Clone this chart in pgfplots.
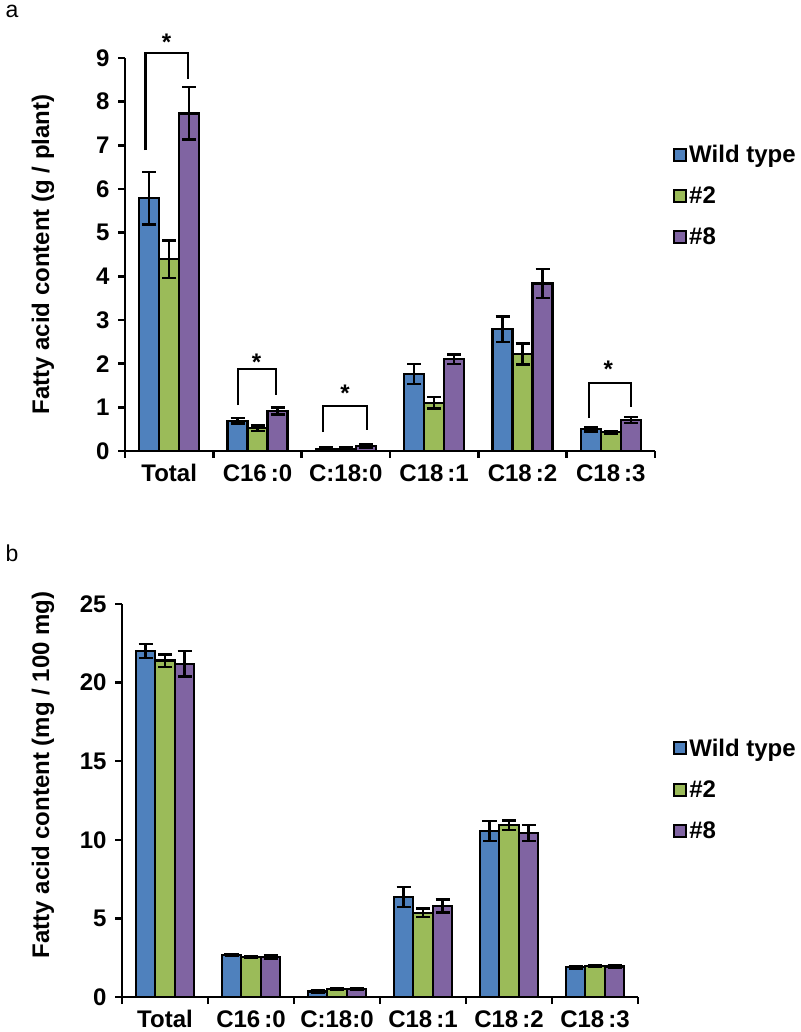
\documentclass[border=0pt]{standalone}
\usepackage{fontspec}
\setmainfont{Liberation Sans}
\usepackage{pgfplots}
\usepackage{pgfplotstable}
\pgfplotsset{compat=1.18}

\definecolor{wt}{HTML}{4F81BD}
\definecolor{tg}{HTML}{9BBB59}
\definecolor{tp}{HTML}{8064A2}

\pgfplotstableread{
x wt wte t2 t2e t8 t8e
0 5.79 0.60 4.39 0.43 7.73 0.60
1 0.69 0.06 0.52 0.06 0.92 0.08
2 0.05 0.03 0.05 0.03 0.12 0.04
3 1.76 0.23 1.10 0.13 2.10 0.11
4 2.79 0.29 2.22 0.24 3.84 0.33
5 0.50 0.05 0.43 0.03 0.71 0.07
}\dataA

\pgfplotstableread{
x wt wte t2 t2e t8 t8e
0 22.00 0.45 21.40 0.40 21.20 0.80
1 2.67 0.08 2.55 0.07 2.55 0.12
2 0.35 0.08 0.50 0.05 0.50 0.05
3 6.36 0.64 5.36 0.28 5.79 0.42
4 10.56 0.62 10.94 0.30 10.43 0.50
5 1.90 0.08 1.98 0.07 1.93 0.10
}\dataB

\newcommand{\bigf}{\fontsize{24}{28}\selectfont\bfseries}

\pgfplotsset{
  leg/.style={legend image code/.code={\draw[##1, line width=2pt] (0pt,-6pt) rectangle (12pt,6pt);}},
  fa/.style={
    scale only axis, height=393pt,
    ybar=0pt,
    axis x line*=bottom, axis y line*=left,
    axis line style={line width=2.4pt, -},
    xmin=-0.5, xmax=5.5, ymin=0,
    xtick={0,...,5},
    xticklabels={Total, C16\,:0, C:18:0, C18\,:1, C18\,:2, C18\,:3},
    minor xtick={-0.5,0.5,...,5.5},
    major x tick style={draw=none},
    minor x tick style={line width=2.4pt, black},
    ytick style={line width=2.4pt, black},
    tick align=outside,
    major tick length=7pt, minor tick length=7pt,
    /pgf/number format/assume math mode=true,
    tick label style={font=\bigf},
    yticklabel style={xshift=-5pt},
    xticklabel style={yshift=-3pt},
    ylabel style={font=\bigf},
    clip=false,
    legend cell align=left,
    error bars/y dir=both, error bars/y explicit,
    error bars/error bar style={line width=2.4pt, black},
    error bars/error mark options={rotate=90, mark size=7pt, line width=2.4pt, black},
  },
}

\begin{document}
\begin{tikzpicture}
\useasboundingbox (0pt,0pt) rectangle (800pt,1032pt);
\node[anchor=base west, font=\fontsize{23}{26}\selectfont] at (2pt,1014pt) {a};
\node[anchor=base west, font=\fontsize{23}{26}\selectfont] at (2pt,470pt) {b};

% Panel a
\begin{axis}[fa, at={(125pt,581pt)}, anchor=south west, width=530pt,
  bar width=20pt, ymax=9, ytick={0,1,...,9},
  ylabel={Fatty acid content (g / plant)},
  ylabel style={at={(axis description cs:-0.155,0.5)}, anchor=center},
  legend style={draw=none, fill=none, at={(1.034,0.784)}, anchor=north west,
    font=\bigf, row sep=19pt, inner sep=0pt},
]
\addplot[fill=wt, draw=black, line width=2.4pt, leg] table[x=x, y=wt, y error=wte]{\dataA};
\addplot[fill=tg, draw=black, line width=2.4pt, leg] table[x=x, y=t2, y error=t2e]{\dataA};
\addplot[fill=tp, draw=black, line width=2.4pt, leg] table[x=x, y=t8, y error=t8e]{\dataA};
\legend{Wild type, \#2, \#8}
\draw[line width=2.4pt] (axis cs:-0.27,6.89) -- (axis cs:-0.27,9.11) -- (axis cs:0.215,9.11) -- (axis cs:0.215,8.53);
\draw[line width=2.4pt] (axis cs:0.78,1.05) -- (axis cs:0.78,1.88) -- (axis cs:1.21,1.88) -- (axis cs:1.21,1.28);
\draw[line width=2.4pt] (axis cs:1.74,0.43) -- (axis cs:1.74,1.03) -- (axis cs:2.24,1.03) -- (axis cs:2.24,0.48);
\draw[line width=2.4pt] (axis cs:4.755,0.75) -- (axis cs:4.755,1.56) -- (axis cs:5.23,1.56) -- (axis cs:5.23,1.0);
\node[anchor=base, font=\bigf] at (axis cs:-0.03,9.18) {*};
\node[anchor=base, font=\bigf] at (axis cs:0.99,1.84) {*};
\node[anchor=base, font=\bigf] at (axis cs:1.99,1.13) {*};
\node[anchor=base, font=\bigf] at (axis cs:4.97,1.68) {*};
\end{axis}

% Panel b
\begin{axis}[fa, at={(122pt,35pt)}, anchor=south west, width=516pt,
  bar width=19.5pt, ymax=25, ytick={0,5,...,25},
  ylabel={Fatty acid content (mg / 100 mg)},
  ylabel style={at={(axis description cs:-0.153,0.565)}, anchor=center},
  legend style={draw=none, fill=none, at={(1.068,0.662)}, anchor=north west,
    font=\bigf, row sep=19pt, inner sep=0pt},
]
\addplot[fill=wt, draw=black, line width=2.4pt, leg] table[x=x, y=wt, y error=wte]{\dataB};
\addplot[fill=tg, draw=black, line width=2.4pt, leg] table[x=x, y=t2, y error=t2e]{\dataB};
\addplot[fill=tp, draw=black, line width=2.4pt, leg] table[x=x, y=t8, y error=t8e]{\dataB};
\legend{Wild type, \#2, \#8}
\end{axis}
\end{tikzpicture}
\end{document}
